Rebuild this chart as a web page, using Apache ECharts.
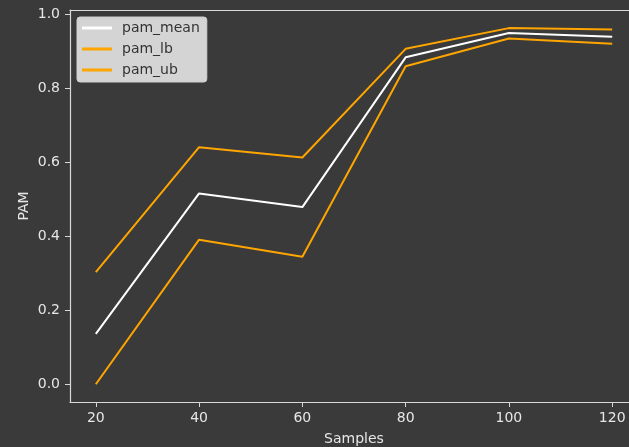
<!DOCTYPE html>
<html>
<head>
<meta charset="utf-8">
<script src="https://cdn.jsdelivr.net/npm/echarts@6/dist/echarts.min.js"></script>
<style>
  html, body { margin: 0; padding: 0; background: #3a3a3a; }
  #chart { width: 629px; height: 447px; }
</style>
</head>
<body>
<div id="chart"></div>
<script>
// 数据
var samples = [20, 40, 60, 80, 100, 120];
var pamMean = [0.136, 0.516, 0.479, 0.884, 0.950, 0.940];
var pamLb = [0.303, 0.641, 0.613, 0.907, 0.963, 0.959];
var pamUb = [0.000, 0.391, 0.345, 0.860, 0.935, 0.921];
var xTicks = [20, 40, 60, 80, 100, 120];
var yTicks = [0, 0.2, 0.4, 0.6, 0.8, 1.0];

function pairs(vals) {
    return samples.map(function (s, i) { return [s, vals[i]]; });
}

var axisColor = '#d8d8d8';
var font = 'DejaVu Sans';

var chart = echarts.init(document.getElementById('chart'));

var option = {
    backgroundColor: '#3a3a3a',
    animation: false,
    textStyle: { fontFamily: font },
    grid: {
        left: 70, top: 10, width: 568, height: 392,
        containLabel: false, outerBoundsMode: 'none'
    },
    legend: {
        orient: 'vertical',
        left: 77, top: 17,
        padding: [4, 7, 5, 5],
        backgroundColor: 'rgba(220,220,220,0.95)',
        borderColor: '#cfcfcf', borderWidth: 1, borderRadius: 3,
        itemWidth: 30, itemHeight: 3, itemGap: 7,
        icon: 'rect',
        textStyle: { color: '#333', fontSize: 14, lineHeight: 14, padding: [0, 0, 0, 5], fontFamily: font },
        data: ['pam_mean', 'pam_lb', 'pam_ub']
    },
    xAxis: [
        {
            type: 'value', min: 15, max: 125,
            name: 'Samples', nameLocation: 'middle', nameGap: 30, nameMoveOverlap: false,
            nameTextStyle: { color: '#e6e6e6', fontSize: 14 },
            axisLine: { show: true, onZero: false, lineStyle: { color: axisColor, width: 1.2 } },
            axisTick: { show: true, length: 5, customValues: xTicks, lineStyle: { color: axisColor } },
            axisLabel: { color: '#e6e6e6', fontSize: 14, margin: 9, customValues: xTicks },
            splitLine: { show: false }
        },
        {
            // 上边框
            type: 'value', min: 15, max: 125, position: 'top',
            axisLine: { show: true, onZero: false, lineStyle: { color: axisColor, width: 1.2 } },
            axisTick: { show: false }, axisLabel: { show: false }, splitLine: { show: false }
        }
    ],
    yAxis: {
        type: 'value', min: -0.048, max: 1.012,
        name: 'PAM', nameLocation: 'middle', nameGap: 39, nameRotate: 90, nameMoveOverlap: false,
        nameTextStyle: { color: '#e6e6e6', fontSize: 14 },
        axisLine: { show: true, onZero: false, lineStyle: { color: axisColor, width: 1.2 } },
        axisTick: { show: true, length: 5, customValues: yTicks, lineStyle: { color: axisColor } },
        axisLabel: {
            color: '#e6e6e6', fontSize: 14, margin: 10, customValues: yTicks,
            formatter: function (v) { return v.toFixed(1); }
        },
        splitLine: { show: false }
    },
    series: [
        {
            name: 'pam_mean', type: 'line', data: pairs(pamMean),
            showSymbol: false, color: '#ffffff',
            lineStyle: { width: 2, color: '#ffffff' }
        },
        {
            name: 'pam_lb', type: 'line', data: pairs(pamLb),
            showSymbol: false, color: '#ffa500',
            lineStyle: { width: 2, color: '#ffa500' }
        },
        {
            name: 'pam_ub', type: 'line', data: pairs(pamUb),
            showSymbol: false, color: '#ffa500',
            lineStyle: { width: 2, color: '#ffa500' }
        }
    ]
};

chart.setOption(option);
</script>
</body>
</html>
